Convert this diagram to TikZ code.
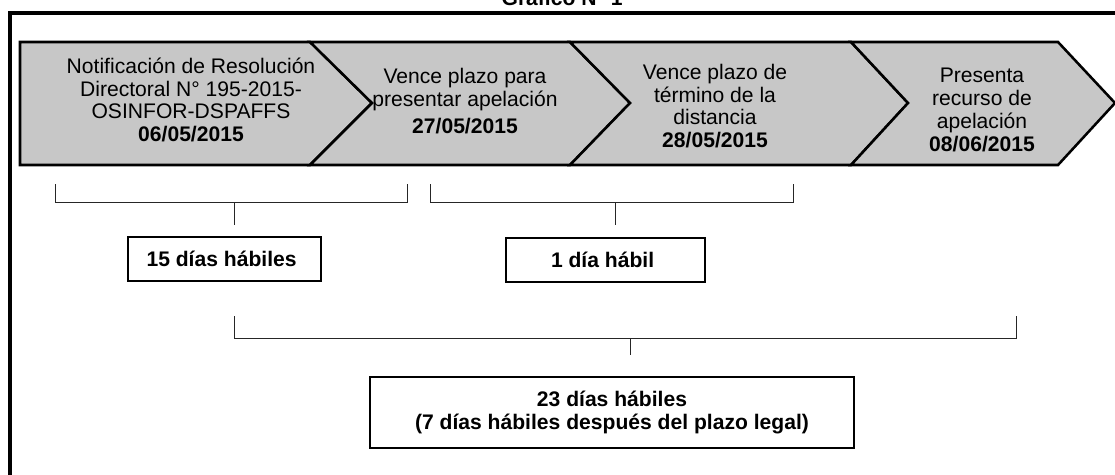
\documentclass[tikz,border=0pt]{standalone}
\usepackage{fontspec}
\setmainfont{Liberation Sans}
\usetikzlibrary{positioning, calc}

\begin{document}
\begin{tikzpicture}[%
    x=0.025cm, y=-0.025cm,        % one unit per pixel, y going down
    ]

\tikzset{
  base/.style={align=center, inner sep=0pt, font=\fontsize{15}{16.2}\selectfont},
  stage/.style={draw=black, line width=1.8pt, fill=black!22, line join=miter},
  dbox/.style={base, draw, line width=1.1pt, font=\fontsize{15}{16.2}\selectfont\bfseries},
  brace/.style={draw=black!85, line width=0.7pt}
  };

\useasboundingbox (0,0) rectangle (1115,474);

% FRAME
\node[base, anchor=base, font=\fontsize{15}{16}\selectfont\bfseries] (title) at (565,5)
    { Gráfico N° 1 };
\draw[line width=2.2pt] (10,490) -- (10,13) -- (1130,13);

% STAGES
\draw[stage] (20,42) -- (310,42) -- (372,103) -- (310,165) -- (20,165) -- cycle;
\draw[stage] (310,42) -- (570,42) -- (630,103) -- (570,165) -- (310,165) -- (372,103) -- cycle;
\draw[stage] (570,42) -- (851,42) -- (908,103) -- (851,165) -- (570,165) -- (630,103) -- cycle;
\draw[stage] (851,42) -- (1058,42) -- (1115,103) -- (1058,165) -- (851,165) -- (908,103) -- cycle;

\node[base] (notif) at (191,100)
    { Notificación de Resolución\\ Directoral N° 195-2015-\\ OSINFOR-DSPAFFS\\ \textbf{06/05/2015} };
\node[base] (venceApel) at (465,101)
    { Vence plazo para\\ presentar apelación\\[3pt] \textbf{27/05/2015} };
\node[base] (venceDist) at (715,106)
    { Vence plazo de\\ término de la\\ distancia\\ \textbf{28/05/2015} };
\node[base] (presenta) at (982,110)
    { Presenta\\ recurso de\\ apelación\\ \textbf{08/06/2015} };

% PLAZOS
\coordinate (b1a) at (55,184);
\coordinate (b1b) at (407,184);
\coordinate (b1m) at (234,202);
\coordinate (b1e) at (234,225);
\draw[brace] (b1a) -- ++(0,18) -| (b1b);
\draw[brace] (b1m) -- (b1e);

\node[dbox, minimum width=4.83cm, minimum height=1.1cm] (dias15) at (224.5,259)
    { 15 días hábiles };

\coordinate (b2a) at (430,184);
\coordinate (b2b) at (793,184);
\coordinate (b2m) at (615,202);
\coordinate (b2e) at (615,225);
\draw[brace] (b2a) -- ++(0,18) -| (b2b);
\draw[brace] (b2m) -- (b2e);

\node[dbox, minimum width=4.98cm, minimum height=1.1cm] (dia1) at (605.5,260)
    { 1 día hábil };

\coordinate (b3a) at (234,316);
\coordinate (b3b) at (1016,316);
\coordinate (b3m) at (630,338);
\coordinate (b3e) at (630,355);
\draw[brace] (b3a) -- ++(0,22) -| (b3b);
\draw[brace] (b3m) -- (b3e);

\node[dbox, minimum width=12.1cm, minimum height=1.78cm] (dias23) at (612,412.5)
    { 23 días hábiles\\ (7 días hábiles después del plazo legal) };

\end{tikzpicture}
\end{document}
